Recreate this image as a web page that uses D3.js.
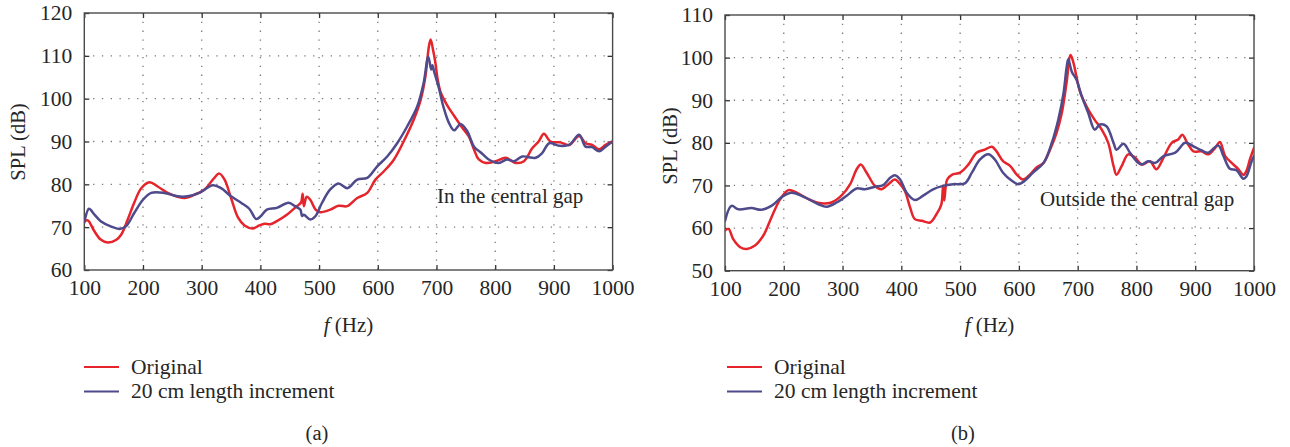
<!DOCTYPE html>
<html>
<head>
<meta charset="utf-8">
<script src="https://cdn.jsdelivr.net/npm/d3@7"></script>
<style>
  html, body { margin: 0; padding: 0; background: #fff; }
  svg { display: block; }
  text { font-family: "Liberation Serif", "DejaVu Serif", serif; fill: #262626; }
</style>
</head>
<body>
<svg id="chart" width="1290" height="447"></svg>
<script>
// ---------------- DATA ----------------
const seriesNames = ["Original", "20 cm length increment"];
const xTicks = [100, 200, 300, 400, 500, 600, 700, 800, 900, 1000];
const yTicksA = [60, 70, 80, 90, 100, 110, 120];
const yTicksB = [50, 60, 70, 80, 90, 100, 110];

// Panel (a): In the central gap
const aOrigF = [100,106,117,128,140,154,163,174,185,197,211,225,242,259,271,288,305,319,330,339,350,362,373,387,398,407,417,428,445,462,469,472,474,479,485,494,502,519,533,548,565,582,596,610,627,644,661,673,681,687,690,694,698,702,707,718,730,744,755,764,772,784,801,818,835,849,863,874,883,894,911,926,943,954,965,977,988,1000];
const aOrigV = [71.4,71.6,69.1,67.1,66.4,67.0,68.3,71.8,75.7,79.1,80.5,79.5,78.0,77.1,76.8,77.6,78.8,81.1,82.5,81.1,76.8,72.2,70.4,69.7,70.4,70.8,70.7,71.4,72.9,74.9,75.7,77.8,74.9,77.1,76.4,74.1,73.5,74.1,75.0,74.9,76.8,78.0,81.1,83.0,85.7,90.0,95.0,99.7,105.1,112.1,113.8,111.5,108.5,104.5,101.5,98.5,96.0,93.2,91.2,88.1,85.8,85.0,85.4,86.2,85.0,85.4,88.4,90.0,91.8,90.0,89.8,89.2,91.3,89.6,89.2,88.2,89.2,90.0];

const aIncF = [100,108,117,128,145,160,171,185,200,214,236,259,276,296,319,333,350,367,381,393,401,411,428,448,459,468,471,474,485,494,505,519,533,548,565,582,599,616,633,650,667,678,686,691,693,696,704,712,721,730,741,752,764,775,789,806,820,832,846,869,880,892,909,926,943,954,965,977,988,1000];
const aIncV = [71.0,74.3,73.0,71.4,70.2,69.6,70.2,73.3,76.4,78.0,78.0,77.2,77.2,78.0,79.8,79.1,77.2,75.7,74.3,71.9,72.6,74.1,74.5,75.7,74.9,74.1,72.6,72.9,71.8,72.6,75.7,78.8,80.2,79.1,81.1,81.5,84.2,86.5,89.6,93.5,98.1,103.6,109.8,106.8,107.8,106.3,102.5,98.0,94.4,92.6,94.1,92.5,88.8,87.5,85.8,85.0,85.8,85.4,86.5,86.2,87.3,89.6,89.0,89.2,91.6,88.8,88.7,87.7,88.8,90.0];

// Panel (b): Outside the central gap
const bOrigF = [100,106,114,126,137,151,165,179,194,208,222,242,264,281,298,313,324,331,341,355,366,378,389,398,406,415,423,435,449,460,468,471,473,478,486,500,514,528,542,554,562,573,585,596,607,619,630,642,653,664,673,681,688,693,698,704,718,729,741,752,761,766,775,786,798,809,823,834,846,860,871,878,888,897,911,922,934,942,951,962,973,982,987,993,1000];
const bOrigV = [59.4,59.8,57.4,55.5,55.1,55.9,58.2,62.5,66.8,68.9,68.3,66.8,65.8,66.0,67.6,70.3,73.8,74.9,73.0,69.9,69.1,70.3,71.4,70.3,68.7,64.8,62.1,61.7,61.3,63.3,65.5,70.0,66.5,71.4,72.5,73.0,74.9,77.7,78.4,79.1,78.0,75.7,74.6,72.6,71.4,72.6,74.2,75.3,78.4,82.3,87.0,94.0,100.6,98.7,95.5,92.0,87.8,85.4,83.1,80.0,74.6,72.5,74.6,77.3,76.5,74.9,75.7,73.8,76.5,80.0,80.8,81.9,79.6,78.0,78.0,77.3,78.8,80.2,76.9,75.3,73.9,72.5,73.4,76.1,78.8];

const bIncF = [100,111,123,145,162,179,196,213,236,259,273,290,307,324,338,355,369,381,389,398,409,423,437,454,471,488,508,520,534,548,559,573,588,599,610,624,642,656,667,676,681,684,690,698,707,718,729,738,749,761,766,778,789,803,809,820,832,846,866,883,897,911,922,939,948,959,970,982,987,996,1000];
const bIncV = [61.7,65.2,64.4,64.7,64.3,65.2,67.2,68.3,67.2,65.6,65.0,66.0,67.6,69.3,69.1,69.7,70.1,71.8,72.4,71.4,68.3,66.6,67.6,69.1,69.9,70.3,70.5,73.0,76.1,77.3,76.1,73.0,71.1,70.3,71.1,73.0,75.3,80.0,85.4,91.7,97.5,99.6,96.7,94.8,90.9,87.0,83.1,84.3,83.9,80.0,78.4,79.8,77.7,75.3,74.9,75.7,75.3,76.9,77.7,80.0,79.2,78.2,77.7,79.4,76.9,73.9,73.6,71.6,72.1,75.7,76.9];

// ---------------- STYLE ----------------
const colors = ["#e5242b", "#4e4a8c"];
const svg = d3.select("#chart");

function drawPanel(p) {
  const g = svg.append("g");
  const x = d3.scaleLinear().domain([100, 1000]).range([p.left, p.right]);
  const y = d3.scaleLinear().domain([p.yTicks[0], p.yTicks[p.yTicks.length - 1]]).range([p.bottom, p.top]);

  // grid
  g.append("g").selectAll("line").data(xTicks.slice(1, -1)).join("line")
    .attr("x1", d => x(d)).attr("x2", d => x(d)).attr("y1", p.top).attr("y2", p.bottom)
    .attr("stroke", "#7a7a7a").attr("stroke-width", 1.3).attr("stroke-dasharray", "1.3,7.5");
  g.append("g").selectAll("line").data(p.yTicks.slice(1, -1)).join("line")
    .attr("x1", p.left).attr("x2", p.right).attr("y1", d => y(d)).attr("y2", d => y(d))
    .attr("stroke", "#7a7a7a").attr("stroke-width", 1.3).attr("stroke-dasharray", "1.3,7.5");

  // axes (ticks inward)
  const bottomAxis = d3.axisBottom(x).tickValues(xTicks).tickSizeInner(-5).tickSizeOuter(0).tickPadding(10).tickFormat(d3.format("d"));
  const topAxis = d3.axisTop(x).tickValues(xTicks).tickSizeInner(-5).tickSizeOuter(0).tickFormat("");
  const leftAxis = d3.axisLeft(y).tickValues(p.yTicks).tickSizeInner(-5).tickSizeOuter(0).tickPadding(12).tickFormat(d3.format("d"));
  const rightAxis = d3.axisRight(y).tickValues(p.yTicks).tickSizeInner(-5).tickSizeOuter(0).tickFormat("");

  const axes = [
    g.append("g").attr("transform", `translate(0,${p.bottom})`).call(bottomAxis),
    g.append("g").attr("transform", `translate(0,${p.top})`).call(topAxis),
    g.append("g").attr("transform", `translate(${p.left},0)`).call(leftAxis),
    g.append("g").attr("transform", `translate(${p.right},0)`).call(rightAxis)
  ];
  axes.forEach(a => {
    a.select(".domain").remove();
    a.selectAll("line").attr("stroke", "#333").attr("stroke-width", 1.3);
    a.selectAll("text").attr("font-size", 21.5).attr("fill", "#262626");
  });

  // frame
  g.append("rect").attr("x", p.left).attr("y", p.top)
    .attr("width", p.right - p.left).attr("height", p.bottom - p.top)
    .attr("fill", "none").attr("stroke", "#4a4a4a").attr("stroke-width", 1.4);

  // lines
  const line = d3.line().x(d => x(d[0])).y(d => y(d[1])).curve(d3.curveCatmullRom.alpha(0.5));
  const clipId = "clip" + p.id;
  svg.append("clipPath").attr("id", clipId).append("rect")
    .attr("x", p.left).attr("y", p.top).attr("width", p.right - p.left).attr("height", p.bottom - p.top);
  p.series.forEach((s, i) => {
    g.append("path").datum(d3.zip(s.f, s.v))
      .attr("d", line).attr("fill", "none")
      .attr("stroke", colors[i]).attr("stroke-width", 2.5)
      .attr("stroke-linejoin", "round").attr("stroke-linecap", "round")
      .attr("clip-path", `url(#${clipId})`);
  });

  // annotation
  g.append("text").attr("x", p.annX).attr("y", p.annY).attr("font-size", 21).text(p.annotation);

  // y label
  g.append("text").attr("transform", `translate(${p.yLabelX},${p.yLabelY}) rotate(-90)`)
    .attr("text-anchor", "middle").attr("font-size", 20.5).text("SPL (dB)");

  // x label
  const xl = g.append("text").attr("x", (p.left + p.right) / 2).attr("y", 332)
    .attr("text-anchor", "middle").attr("font-size", 21);
  xl.append("tspan").attr("font-style", "italic").text("f");
  xl.append("tspan").text(" (Hz)");

  // legend
  seriesNames.forEach((name, i) => {
    const ly = 367 + i * 24.5;
    g.append("line").attr("x1", p.legX).attr("x2", p.legX + 35).attr("y1", ly).attr("y2", ly)
      .attr("stroke", colors[i]).attr("stroke-width", 1.8);
    g.append("text").attr("x", p.legX + 47).attr("y", ly + 6.5).attr("font-size", 21.5).text(name);
  });

  // panel label
  g.append("text").attr("x", p.capX).attr("y", 440).attr("text-anchor", "middle")
    .attr("font-size", 20.5).text(p.caption);
}

drawPanel({
  id: "a", left: 84.3, right: 612.6, top: 13, bottom: 270,
  yTicks: yTicksA, yLabelX: 25, yLabelY: 142,
  series: [{ f: aOrigF, v: aOrigV }, { f: aIncF, v: aIncV }],
  annotation: "In the central gap", annX: 437, annY: 203,
  legX: 84, capX: 317, caption: "(a)"
});
drawPanel({
  id: "b", left: 725, right: 1254, top: 15, bottom: 270.7,
  yTicks: yTicksB, yLabelX: 677, yLabelY: 146,
  series: [{ f: bOrigF, v: bOrigV }, { f: bIncF, v: bIncV }],
  annotation: "Outside the central gap", annX: 1040, annY: 206,
  legX: 727, capX: 963, caption: "(b)"
});
</script>
</body>
</html>
